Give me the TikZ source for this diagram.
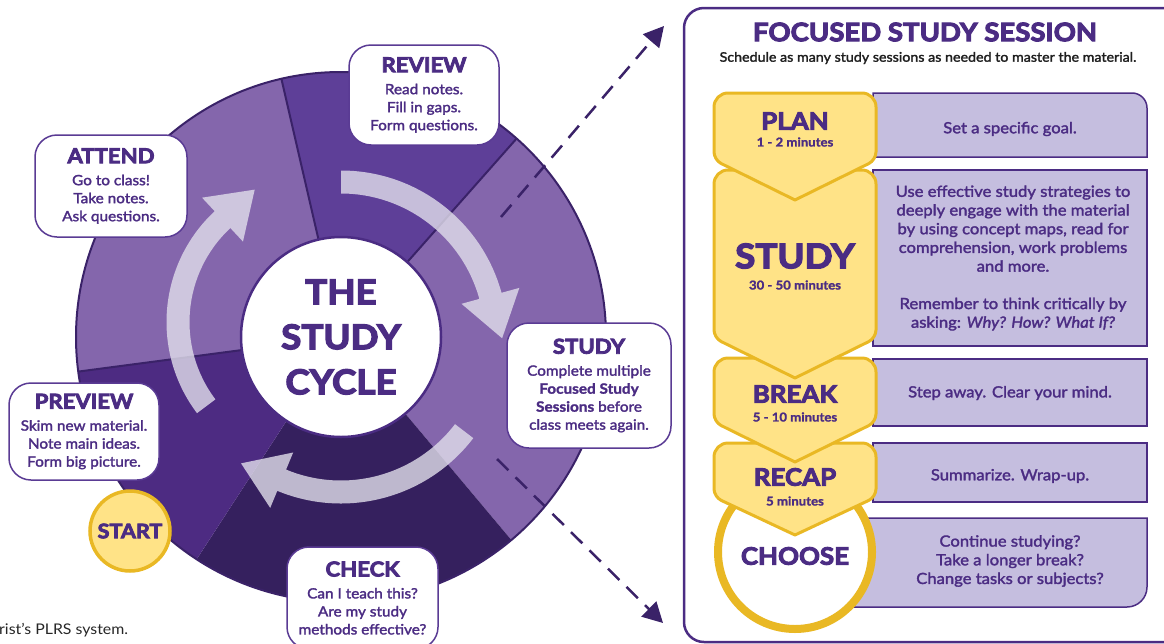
\documentclass[tikz,border=0pt]{standalone}
\usepackage{fontspec}
\setmainfont{Lato}[FakeStretch=1.08]
\newfontfamily\heavyface{Lato Bold}[FakeStretch=1.08, FakeBold=4]
\newfontfamily\boldface{Lato Bold}[FakeStretch=1.08, FakeBold=1.5]
\newfontfamily\semiface{Lato}[FakeStretch=1.08, FakeBold=2]
\usetikzlibrary{arrows.meta}

\definecolor{seglight}{HTML}{8466AC}
\definecolor{segreview}{HTML}{5E3F98}
\definecolor{segpreview}{HTML}{4D2B82}
\definecolor{segcheck}{HTML}{35205E}
\definecolor{linedark}{HTML}{3A2268}
\definecolor{textpurple}{HTML}{4B2C83}
\definecolor{boxborder}{HTML}{5A3B94}
\definecolor{noteyellow}{HTML}{FFE387}
\definecolor{notegold}{HTML}{E9B824}
\definecolor{lavender}{HTML}{C5BEDF}
\definecolor{arrowtint}{RGB}{225,222,235}

\tikzstyle{cyclebox} = [draw=boxborder, line width=1.5pt, fill=white, rounded corners=22pt, align=center, text=textpurple, inner sep=0pt, font=\semiface\fontsize{14.2}{18}\selectfont]
\tikzstyle{segline} = [draw=linedark, line width=2pt]
\tikzstyle{arrowfill} = [fill=arrowtint, fill opacity=0.8]
\tikzstyle{stepshape} = [fill=noteyellow, draw=notegold, line width=3pt, line join=round]
\tikzstyle{notebox} = [fill=lavender, draw=textpurple, line width=1.5pt]
\tikzstyle{notetext} = [align=center, text=textpurple, font=\semiface\fontsize{15.4}{18.7}\selectfont]
\tikzstyle{steptitle} = [text=textpurple, font=\heavyface\fontsize{24}{24}\selectfont]
\tikzstyle{steptime} = [text=textpurple, font=\boldface\fontsize{12.2}{12}\selectfont]
\tikzstyle{dasharrow} = [draw=linedark, line width=2.5pt, dash pattern=on 16pt off 10pt, -{Triangle[length=20pt, width=21pt]}]

\newcommand\boxhead{\heavyface\fontsize{20.5}{20}\selectfont}
% start angle, base of the head, radius
\newcommand\cyclearrow[3]{%
  \fill[arrowfill] ({#1}:{#3+11.5}) arc[start angle=#1, end angle=#2, radius=#3+11.5]
    -- ({#2}:{#3+30}) -- ({#2-atan(44/#3)}:{10*veclen(#3/10,4.4)}) -- ({#2}:{#3-30})
    -- ({#2}:{#3-11.5}) arc[start angle=#2, end angle=#1, radius=#3-11.5] -- cycle;}
% top, end of the sides, tip
\newcommand\stepshape[3]{%
  \draw[stepshape] (795,-#3) [rounded corners=8pt] -- (714,-#2) [rounded corners=14pt] -- (714,-#1)
    -- (876,-#1) [rounded corners=8pt] -- (876,-#2) [sharp corners] -- cycle;}

\begin{document}
\begin{tikzpicture}[x=1pt, y=1pt]
  \useasboundingbox (0,0) rectangle (1164,-643);

  % the cycle
  \begin{scope}[shift={(341,-337)}]
    \foreach \a/\b/\c in {103/187.5/seglight, 48.5/103/segreview, -50/48.5/seglight,
                          -123/-50/segcheck, 187.5/237/segpreview}
      \fill[\c] (0,0) -- (\a:265) arc[start angle=\a, end angle=\b, radius=265] -- cycle;
    \foreach \a in {103, 48.5, 187.5}
      \draw[segline] (\a:100) -- (\a:265);
    \draw[segline] (0,0) circle[radius=265];
    \cyclearrow{90}{15.4}{155}
    \cyclearrow{-37.4}{-112.5}{155}
  \end{scope}
  \begin{scope}[shift={(318,-322)}]
    \cyclearrow{217}{133}{140}
  \end{scope}

  \node[circle, fill=white, draw=textpurple, line width=2.5pt, minimum size=200pt, align=center,
        text=textpurple, font=\heavyface\fontsize{34}{45}\selectfont] (core) at (341,-337) {THE\\STUDY\\CYCLE};

  % way out to the session
  \coordinate (upfrom) at (501,-217);
  \coordinate (upto) at (664,-26);
  \coordinate (downfrom) at (497,-459);
  \coordinate (downto) at (663,-623);
  \draw[dasharrow] (upfrom) -- (upto);
  \draw[dasharrow] (downfrom) -- (downto);

  \node[cyclebox, minimum width=150pt, minimum height=100pt] (review) at (424,-95)
    {{\boxhead REVIEW}\\[4pt]Read notes.\\Fill in gaps.\\Form questions.};
  \node[cyclebox, minimum width=152pt, minimum height=102pt] (attend) at (111,-186)
    {{\boxhead ATTEND}\\[4pt]Go to class!\\Take notes.\\Ask questions.};
  \node[cyclebox, minimum width=150pt, minimum height=97pt] (preview) at (84,-431.5)
    {{\boxhead PREVIEW}\\[4pt]Skim new material.\\Note main ideas.\\Form big picture.};
  \node[cyclebox, minimum width=151pt, minimum height=102pt] (check) at (362.5,-598)
    {{\boxhead CHECK}\\[4pt]Can I teach this?\\Are my study\\methods effective?};
  \node[cyclebox, minimum width=164pt, minimum height=125pt] (study) at (589,-385.5)
    {{\boxhead STUDY}\\[4pt]Complete multiple\\{\boldface Focused Study}\\{\boldface Sessions} before\\class meets again.};
  \node[circle, fill=noteyellow, draw=notegold, line width=3.5pt, minimum size=80pt, text=textpurple,
        font=\heavyface\fontsize{20}{20}\selectfont] (start) at (130,-531) {START};

  \node[anchor=base west, inner sep=0pt, text=black!85, font=\fontsize{14.7}{14}\selectfont] (credit) at (-1,-634) {rist’s PLRS system.};

  % focused study session
  \draw[draw=textpurple, line width=2.5pt, rounded corners=20pt] (684,-8) rectangle (1200,-642);
  \node[text=textpurple, font=\heavyface\fontsize{25.5}{26}\selectfont] (title) at (925,-32) {FOCUSED STUDY SESSION};
  \node[text=black!88, font=\semiface\fontsize{13.2}{12}\selectfont] (subtitle) at (928,-58)
    {Schedule as many study sessions as needed to master the material.};

  \draw[notebox] (850,-518) -- (1147,-518) [rounded corners=20pt] -- (1147,-607) [sharp corners] -- (850,-607) -- cycle;
  \draw[notebox] (873,-443) rectangle (1147,-502);
  \draw[notebox] (873,-359) rectangle (1147,-426);
  \draw[notebox] (873,-170) rectangle (1147,-346);
  \draw[notebox] (873,-157) -- (873,-93) [rounded corners=15pt] -- (1147,-93) [sharp corners] -- (1147,-157) -- cycle;

  \draw[draw=notegold, fill=white, line width=8pt] (795,-552) circle[radius=77];
  \stepshape{443}{497}{535}
  \stepshape{358}{422}{462}
  \stepshape{170}{338}{378}
  \stepshape{93}{160}{200}

  \node[steptitle] (plan) at (795,-121) {PLAN};
  \node[steptime] (plantime) at (795,-142) {1 - 2 minutes};
  \node[text=textpurple, font=\heavyface\fontsize{34}{35}\selectfont] (studystep) at (795,-256) {STUDY};
  \node[steptime] (studytime) at (795,-285) {30 - 50 minutes};
  \node[steptitle] (break) at (795,-394) {BREAK};
  \node[steptime] (breaktime) at (795,-417) {5 - 10 minutes};
  \node[steptitle] (recap) at (795,-477) {RECAP};
  \node[steptime] (recaptime) at (795,-501) {5 minutes};
  \node[steptitle] (choose) at (795,-556) {CHOOSE};

  \node[notetext] (plannote) at (1010,-129) {Set a specific goal.};
  \node[notetext] (studynote) at (1013,-258) {Use effective study strategies to\\deeply engage with the material\\by using concept maps, read for\\comprehension, work problems\\and more.\\[18.7pt]Remember to think critically by\\asking: \textit{Why? How? What If?}};
  \node[notetext] (breaknote) at (1010,-393) {Step away. Clear your mind.};
  \node[notetext] (recapnote) at (1010,-476) {Summarize. Wrap-up.};
  \node[notetext] (choosenote) at (1010,-561) {Continue studying?\\Take a longer break?\\Change tasks or subjects?};
\end{tikzpicture}
\end{document}
